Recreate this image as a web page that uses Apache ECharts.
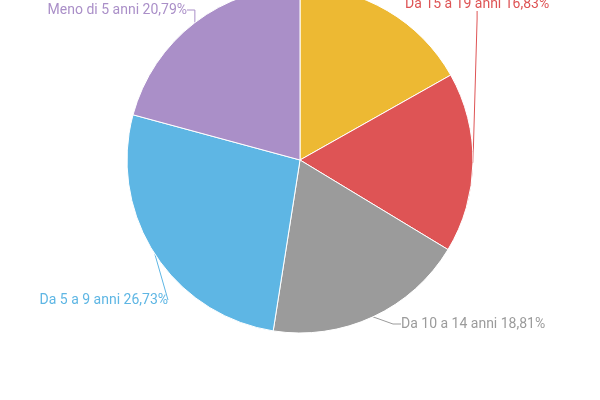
<!DOCTYPE html>
<html>
<head>
<meta charset="utf-8">
<script src="https://cdn.jsdelivr.net/npm/echarts@6/dist/echarts.min.js"></script>
<style>
  html, body { margin: 0; padding: 0; background: #fff; }
  #main { width: 600px; height: 400px; }
</style>
</head>
<body>
<div id="main"></div>
<script>
// fasce d'età e conteggi (totale 101)
var fasce = ["Oltre 19 anni", "Da 15 a 19 anni", "Da 10 a 14 anni", "Da 5 a 9 anni", "Meno di 5 anni"];
var valori = [17, 17, 19, 27, 21];
var colori = ["#EDB933", "#DE5455", "#9B9B9B", "#5EB6E4", "#AA8FC8"];

var totale = valori.reduce(function (a, b) { return a + b; }, 0);

var myChart = echarts.init(document.getElementById("main"));

var dati = fasce.map(function (nome, i) {
  return {
    name: nome,
    value: valori[i],
    itemStyle: { color: colori[i] },
    label: { show: i !== 0, color: colori[i] },
    labelLine: { show: i !== 0 }
  };
});

// posizioni delle etichette come nel grafico originale
var posEtichette = {
  1: { x: 405, y: 4, align: "left" },
  2: { x: 401, y: 324, align: "left" },
  3: { x: 168, y: 300, align: "right" },
  4: { x: 187, y: 10, align: "right" }
};

var option = {
  animation: false,
  series: [
    {
      type: "pie",
      center: [300, 160],
      radius: 173,
      startAngle: 90,
      clockwise: true,
      data: dati,
      itemStyle: { borderColor: "#fff", borderWidth: 1 },
      label: {
        fontFamily: "Roboto",
        fontSize: 14,
        overflow: "none",
        formatter: function (p) {
          var perc = (p.value / totale * 100).toFixed(2).replace(".", ",");
          return p.name + " " + perc + "%";
        }
      },
      labelLine: { length: 8, length2: 8, lineStyle: { width: 1 } },
      labelLayout: function (params) {
        var pos = posEtichette[params.dataIndex];
        if (!pos) return {};
        return { x: pos.x, y: pos.y, align: pos.align, verticalAlign: "middle" };
      }
    }
  ]
};

myChart.setOption(option);
</script>
</body>
</html>
